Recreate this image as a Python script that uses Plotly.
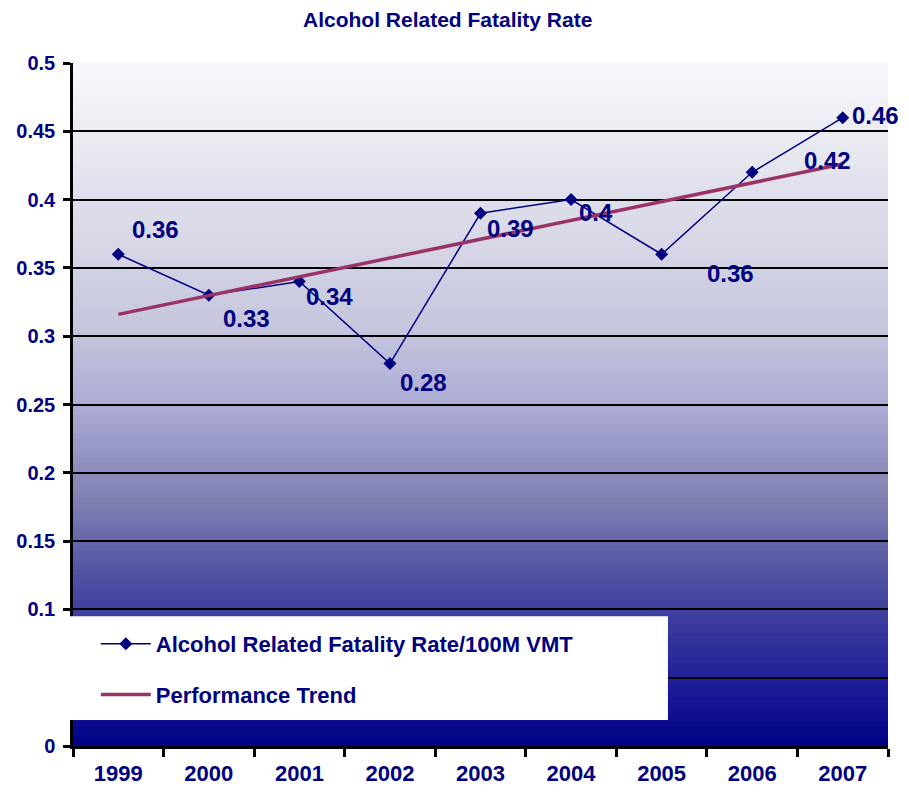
import plotly.graph_objects as go

# ── Data ─────────────────────────────────────────────────────────────
years = ["1999", "2000", "2001", "2002", "2003", "2004", "2005", "2006", "2007"]
fatality_rate = [0.36, 0.33, 0.34, 0.28, 0.39, 0.40, 0.36, 0.42, 0.46]
trend_years = ["1999", "2007"]
trend_values = [0.316, 0.426]
y_ticks = [0, 0.05, 0.1, 0.15, 0.2, 0.25, 0.3, 0.35, 0.4, 0.45, 0.5]

# label offsets (px) for each data label, (xshift, yshift)
_LABEL_SHIFT = [(12, 25), (12, -23), (5, -15), (8, -19), (4, -15),
                (6, -13), (43, -19), (50, 12), (7, 2)]

NAVY = "#000080"
TREND = "#993366"
FONT = "Liberation Sans, Arial, sans-serif"

# background gradient stops: (fraction of plot height, rgb)
_GRAD = [
    (0.00, (0, 0, 135)),
    (0.06, (20, 20, 148)),
    (0.24, (77, 77, 162)),
    (0.36, (128, 128, 178)),
    (0.50, (172, 172, 214)),
    (0.60, (195, 195, 220)),
    (0.70, (210, 210, 228)),
    (0.84, (228, 228, 238)),
    (1.00, (248, 248, 252)),
]


def _grad_color(f):
    for (f0, c0), (f1, c1) in zip(_GRAD[:-1], _GRAD[1:]):
        if f0 <= f <= f1:
            t = (f - f0) / (f1 - f0)
            r, g, b = (round(a + (b_ - a) * t) for a, b_ in zip(c0, c1))
            return f"rgb({r},{g},{b})"
    return "rgb(248,248,252)"


fig = go.Figure()

fig.add_trace(go.Scatter(
    x=years, y=fatality_rate,
    mode="lines+markers",
    name="Alcohol Related Fatality Rate/100M VMT",
    legendgroup="a",
    line=dict(color=NAVY, width=1.5),
    marker=dict(symbol="diamond", size=10, color=NAVY),
))

fig.add_trace(go.Scatter(
    x=trend_years, y=trend_values,
    mode="lines",
    name="Performance Trend",
    legendgroup="b",
    line=dict(color=TREND, width=3.5),
))

# ── Data labels (x given as category index) ──────────────────────────
for i, (val, (dx, dy)) in enumerate(zip(fatality_rate, _LABEL_SHIFT)):
    fig.add_annotation(
        x=i, y=val, text=f"{val:g}", showarrow=False,
        xanchor="left", yanchor="middle", xshift=dx, yshift=dy,
        font=dict(family=FONT, size=24, color=NAVY, weight="bold"),
    )

# ── Gradient background bands ────────────────────────────────────────
n_bands = 140
for i in range(n_bands):
    f0, f1 = i / n_bands, (i + 1) / n_bands
    fig.add_shape(
        type="rect", xref="paper", yref="paper",
        x0=0, x1=1, y0=f0, y1=f1 + 0.002,
        fillcolor=_grad_color((f0 + f1) / 2), line=dict(width=0),
        layer="below",
    )

# white legend box
fig.add_shape(
    type="rect", xref="paper", yref="paper",
    x0=-0.09, x1=0.730, y0=0.038, y1=0.190,
    fillcolor="white", line=dict(width=0), layer="above",
)

# page body has an 8px margin, so the figure is 8px smaller each way
fig.update_layout(
    width=901, height=784,
    paper_bgcolor="white",
    plot_bgcolor="rgba(0,0,0,0)",
    margin=dict(l=65, r=21, t=55, b=46, autoexpand=False),
    font=dict(family=FONT, color=NAVY),
    title=dict(
        text="Alcohol Related Fatality Rate",
        x=0.488, xanchor="center", y=0.985, yanchor="middle",
        font=dict(family=FONT, size=21, color=NAVY, weight="bold"),
    ),
    showlegend=True,
    legend=dict(
        x=0.028, y=0.18, xanchor="left", yanchor="top",
        bgcolor="rgba(0,0,0,0)",
        font=dict(family=FONT, size=22, color=NAVY, weight="bold"),
        itemwidth=50, tracegroupgap=19,
    ),
)

fig.update_xaxes(
    type="category",
    categoryorder="array", categoryarray=years,
    range=[-0.5, len(years) - 0.5],
    tickson="boundaries",
    ticks="outside", ticklen=8, tickwidth=3, tickcolor="black",
    showline=True, linecolor="black", linewidth=3,
    showgrid=False,
    tickangle=0,
    ticklabelstandoff=6,
    tickfont=dict(family=FONT, size=22, color=NAVY, weight="bold"),
)

fig.update_yaxes(
    range=[0, 0.5],
    tickvals=y_ticks,
    ticktext=[f"{v:g}" for v in y_ticks],
    ticks="outside", ticklen=7, tickwidth=3, tickcolor="black",
    showline=True, linecolor="black", linewidth=2.5,
    showgrid=True, gridcolor="black", gridwidth=1.5,
    zeroline=False,
    ticklabelstandoff=4,
    tickfont=dict(family=FONT, size=20, color=NAVY, weight="bold"),
)

fig.write_html("out.html")
